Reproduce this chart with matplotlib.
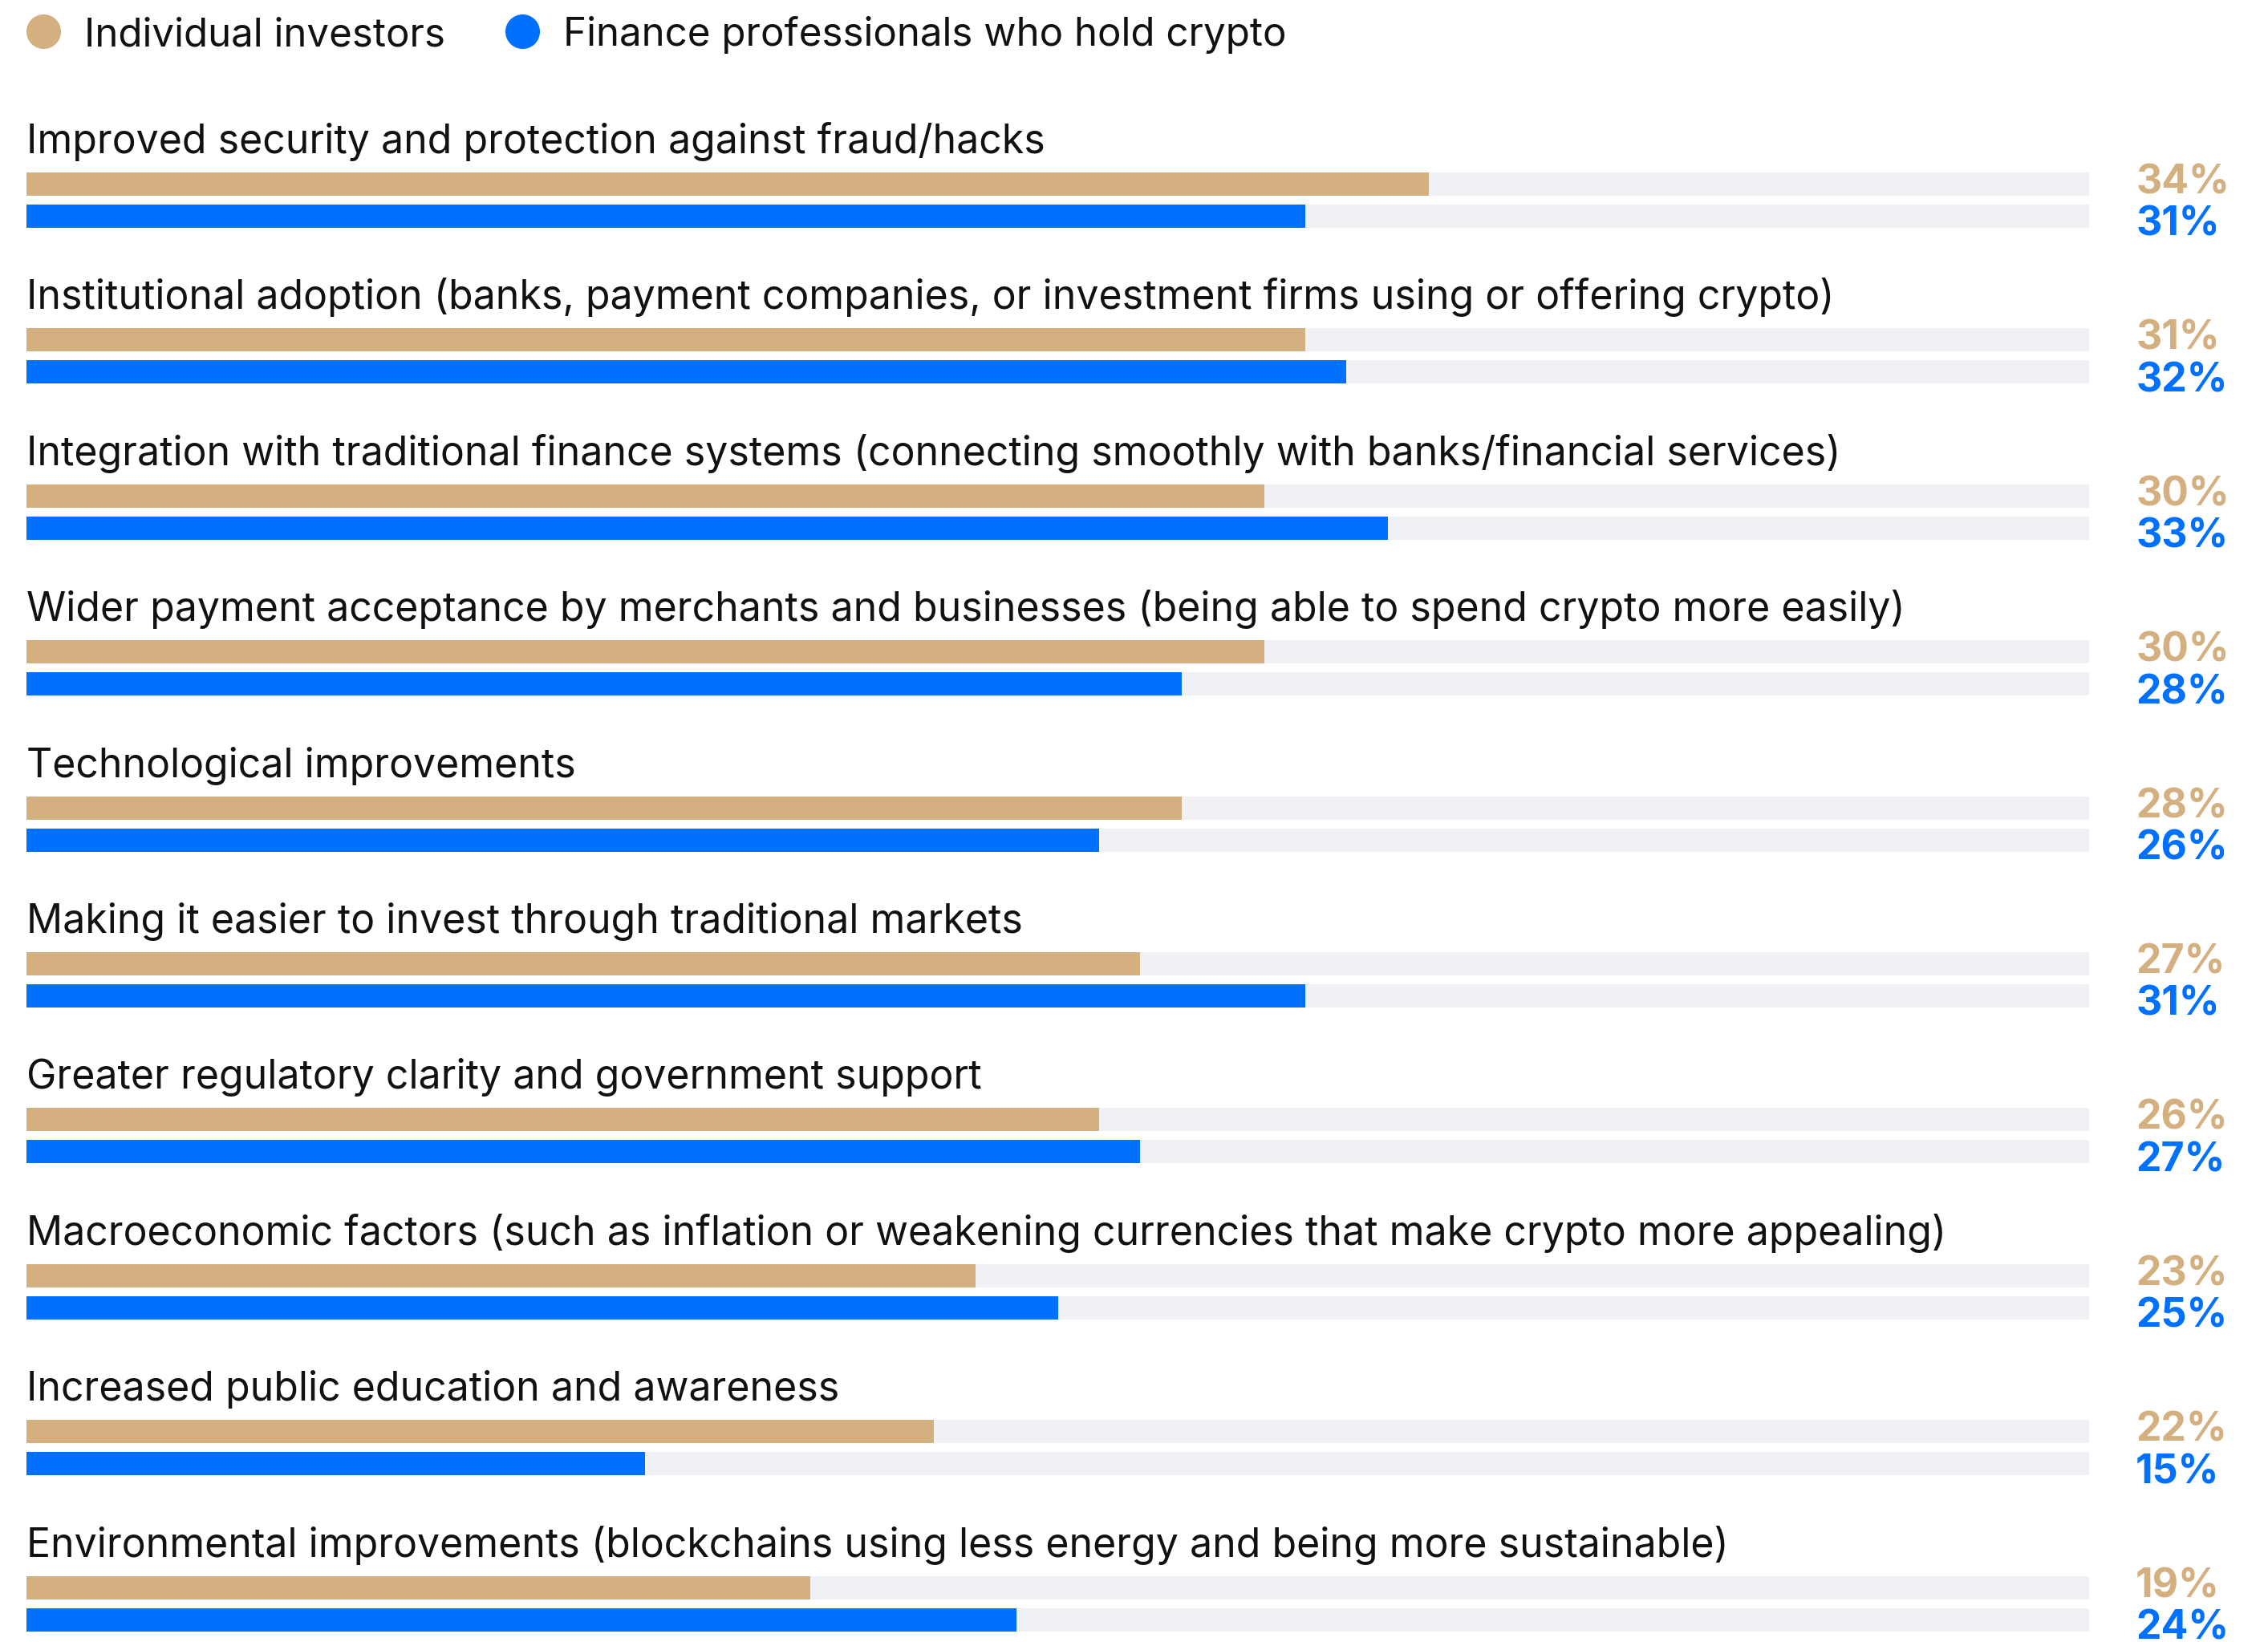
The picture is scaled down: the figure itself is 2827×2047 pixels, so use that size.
import matplotlib.pyplot as plt
from matplotlib.lines import Line2D

categories = [
    "Improved security and protection against fraud/hacks",
    "Institutional adoption (banks, payment companies, or investment firms using or offering crypto)",
    "Integration with traditional finance systems (connecting smoothly with banks/financial services)",
    "Wider payment acceptance by merchants and businesses (being able to spend crypto more easily)",
    "Technological improvements",
    "Making it easier to invest through traditional markets",
    "Greater regulatory clarity and government support",
    "Macroeconomic factors (such as inflation or weakening currencies that make crypto more appealing)",
    "Increased public education and awareness",
    "Environmental improvements (blockchains using less energy and being more sustainable)",
]
individual = [34, 31, 30, 30, 28, 27, 26, 23, 22, 19]
finance = [31, 32, 33, 28, 26, 31, 27, 25, 15, 24]
series_names = ["Individual investors", "Finance professionals who hold crypto"]

TAN = "#D4B080"
BLUE = "#0070FF"
TRACK = "#F0F1F5"
FONT = ["Inter", "DejaVu Sans"]

W, H = 2827, 2047
fig = plt.figure(figsize=(W / 100, H / 100), dpi=100)

# main axes: x in percent (0..50), y in pixel rows
x0, x1 = 33, 2604
ax = fig.add_axes([x0 / W, 0, (x1 - x0) / W, 1])
ax.set_xlim(0, 50)
ax.set_ylim(H, 0)
ax.axis("off")

pitch = 194.4
bar_h = 29
tan_c0 = 229.5
blue_c0 = 269.5

for i, cat in enumerate(categories):
    yt = tan_c0 + i * pitch
    yb = blue_c0 + i * pitch
    ax.barh([yt, yb], [50, 50], height=bar_h, color=TRACK, left=0)
    ax.barh(yt, individual[i], height=bar_h, color=TAN)
    ax.barh(yb, finance[i], height=bar_h, color=BLUE)
    ax.text(0, yt - bar_h / 2 - 24, cat, fontsize=36, family=FONT,
            color="#111111", ha="left", va="baseline")
    ax.text(51.13, yt + bar_h / 2 - 2.5, f"{individual[i]}%", fontsize=36,
            family=FONT, fontweight="bold", color=TAN, ha="left",
            va="baseline", clip_on=False)
    ax.text(51.13, yb + bar_h / 2 + 10, f"{finance[i]}%", fontsize=36,
            family=FONT, fontweight="bold", color=BLUE, ha="left",
            va="baseline", clip_on=False)

# legend drawn in pixel space
lg = fig.add_axes([0, 0, 1, 1])
lg.set_xlim(0, W)
lg.set_ylim(H, 0)
lg.axis("off")
for name, col, cx in zip(series_names, [TAN, BLUE], [54, 651]):
    lg.add_line(Line2D([cx], [39], marker="o", markersize=31, color=col,
                       markeredgewidth=0, linestyle=""))
    lg.text(cx + 51, 57, name, fontsize=35.5, family=FONT, color="#111111",
            ha="left", va="baseline")

fig.savefig("out.png", dpi=100, facecolor="white")
